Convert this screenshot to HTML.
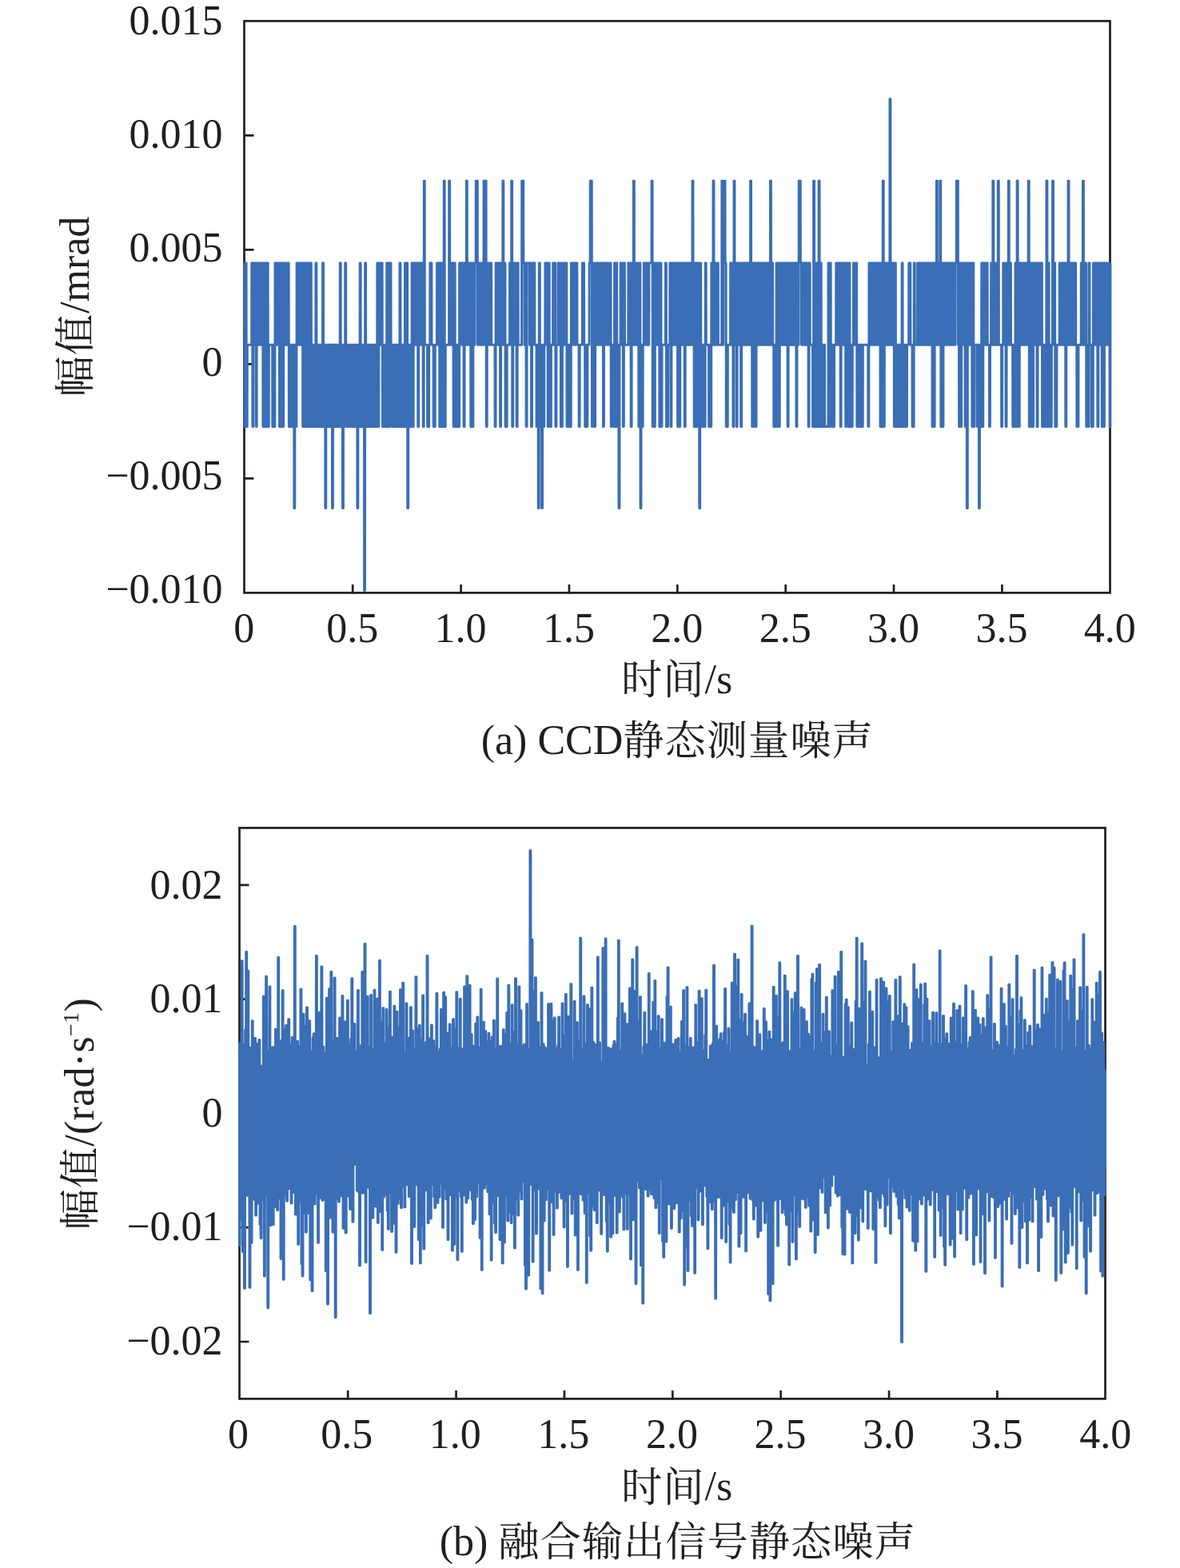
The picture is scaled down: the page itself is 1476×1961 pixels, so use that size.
<!DOCTYPE html>
<html lang="zh-CN">
<head>
<meta charset="utf-8">
<title>CCD静态测量噪声与融合输出信号静态噪声</title>
<style>
html,body{margin:0;padding:0;background:#fff;}
body{width:1476px;height:1961px;overflow:hidden;}
svg{display:block;}
.txt text{font-family:"Liberation Serif","Noto Serif CJK SC",serif;font-size:52px;fill:#221e1f;}
.txt .c{font-size:51.3px;letter-spacing:0.95px;}
.txt .s{font-size:28px;}
.ax rect,.ax path{fill:none;stroke:#221e1f;stroke-width:2.7;}
.dat path{fill:none;stroke:#3a6eb6;stroke-width:2.9;stroke-linejoin:round;stroke-linecap:butt;}
</style>
</head>
<body>
<svg width="1476" height="1961" viewBox="0 0 1476 1961">
<rect width="1476" height="1961" fill="#fff"/>
<g class="ax"><rect x="305.5" y="26.3" width="1083.0" height="715.1"/><path d="M305.5 169.32h12.0M305.5 312.34h12.0M305.5 455.36h12.0M305.5 598.38h12.0M441.18 742.4v-11.3M576.55 742.4v-11.3M711.92 742.4v-11.3M847.30 742.4v-11.3M982.67 742.4v-11.3M1118.05 742.4v-11.3M1253.42 742.4v-11.3"/></g>
<g class="dat"><path d="M305.5 329L305.99 329L306.1 533.5L307.07 533.5L307.18 329L308.15 329L308.26 533.5L309.24 533.5L309.34 431.3L314.65 431.3L314.76 329L315.73 329L315.84 533.5L316.82 533.5L316.93 329L317.9 329L318.01 431.3L318.98 431.3L319.09 329L320.07 329L320.17 533.5L321.15 533.5L321.26 329L322.23 329L322.34 431.3L323.32 431.3L323.42 329L324.4 329L324.51 431.3L325.48 431.3L325.59 329L326.56 329L326.67 431.3L327.65 431.3L327.76 329L328.73 329L328.84 533.5L329.81 533.5L329.92 329L330.9 329L331 533.5L331.98 533.5L332.09 329L333.06 329L333.17 533.5L334.15 533.5L334.25 329L335.23 329L335.34 533.5L336.31 533.5L336.42 431.3L340.64 431.3L340.75 533.5L341.73 533.5L341.83 431.3L342.81 431.3L342.92 533.5L343.89 533.5L344 329L344.98 329L345.08 431.3L346.06 431.3L346.17 329L347.14 329L347.25 431.3L348.22 431.3L348.33 329L349.31 329L349.42 533.5L350.39 533.5L350.5 329L351.47 329L351.58 533.5L352.56 533.5L352.66 329L353.64 329L353.75 533.5L354.72 533.5L354.83 329L355.81 329L355.91 431.3L356.89 431.3L357 329L357.97 329L358.08 431.3L360.14 431.3L360.25 329L361.22 329L361.33 533.5L362.3 533.5L362.41 431.3L363.39 431.3L363.49 533.5L364.47 533.5L364.58 431.3L365.55 431.3L365.66 533.5L366.64 533.5L366.74 431.3L367.72 431.3L367.83 635.6L368.8 635.6L368.91 431.3L369.88 431.3L369.99 533.5L370.97 533.5L371.08 329L372.05 329L372.16 431.3L373.13 431.3L373.24 329L374.22 329L374.32 431.3L375.3 431.3L375.41 329L376.38 329L376.49 431.3L377.47 431.3L377.57 329L378.55 329L378.66 533.5L379.63 533.5L379.74 329L380.71 329L380.82 533.5L381.8 533.5L381.91 329L382.88 329L382.99 533.5L383.96 533.5L384.07 329L385.05 329L385.15 533.5L386.13 533.5L386.24 329L387.21 329L387.32 533.5L388.3 533.5L388.4 329L389.38 329L389.49 533.5L390.46 533.5L390.57 431.3L391.54 431.3L391.65 533.5L392.63 533.5L392.74 431.3L393.71 431.3L393.82 533.5L394.79 533.5L394.9 329L395.88 329L395.98 533.5L396.96 533.5L397.07 431.3L398.04 431.3L398.15 533.5L399.13 533.5L399.23 431.3L400.21 431.3L400.32 533.5L401.29 533.5L401.4 431.3L402.37 431.3L402.48 533.5L403.46 533.5L403.57 329L404.54 329L404.65 533.5L405.62 533.5L405.73 431.3L406.71 431.3L406.81 635.6L407.79 635.6L407.9 431.3L408.87 431.3L408.98 533.5L409.96 533.5L410.06 431.3L411.04 431.3L411.15 533.5L412.12 533.5L412.23 431.3L413.2 431.3L413.31 533.5L414.29 533.5L414.4 431.3L415.37 431.3L415.48 635.6L416.45 635.6L416.56 431.3L417.54 431.3L417.64 533.5L418.62 533.5L418.73 431.3L419.7 431.3L419.81 533.5L420.79 533.5L420.89 431.3L421.87 431.3L421.98 533.5L422.95 533.5L423.06 431.3L424.03 431.3L424.14 533.5L425.12 533.5L425.23 329L426.2 329L426.31 533.5L427.28 533.5L427.39 431.3L428.37 431.3L428.47 635.6L429.45 635.6L429.56 431.3L430.53 431.3L430.64 533.5L431.62 533.5L431.72 329L432.7 329L432.81 431.3L433.78 431.3L433.89 533.5L434.86 533.5L434.97 431.3L435.95 431.3L436.06 533.5L437.03 533.5L437.14 431.3L438.11 431.3L438.22 533.5L439.2 533.5L439.3 431.3L440.28 431.3L440.39 533.5L441.36 533.5L441.47 431.3L442.45 431.3L442.55 533.5L443.53 533.5L443.64 431.3L444.61 431.3L444.72 533.5L445.69 533.5L445.8 431.3L446.78 431.3L446.89 635.6L447.86 635.6L447.97 431.3L448.94 431.3L449.05 533.5L450.03 533.5L450.13 329L451.11 329L451.22 533.5L452.19 533.5L452.3 431.3L453.28 431.3L453.38 533.5L454.36 533.5L454.47 431.3L455.44 431.3L455.55 738.6L456.52 738.6L456.63 329L457.61 329L457.72 533.5L458.69 533.5L458.8 431.3L459.77 431.3L459.88 533.5L460.86 533.5L460.96 431.3L461.94 431.3L462.05 533.5L463.02 533.5L463.13 431.3L464.11 431.3L464.21 533.5L465.19 533.5L465.3 431.3L466.27 431.3L466.38 533.5L467.35 533.5L467.46 431.3L468.44 431.3L468.55 533.5L469.52 533.5L469.63 431.3L470.6 431.3L470.71 533.5L471.69 533.5L471.79 329L472.77 329L472.88 533.5L473.85 533.5L473.96 329L474.94 329L475.04 431.3L477.1 431.3L477.21 329L478.18 329L478.29 533.5L479.27 533.5L479.38 431.3L480.35 431.3L480.46 533.5L481.43 533.5L481.54 431.3L482.52 431.3L482.62 533.5L483.6 533.5L483.71 329L484.68 329L484.79 533.5L485.77 533.5L485.87 329L486.85 329L486.96 533.5L487.93 533.5L488.04 329L489.01 329L489.12 431.3L490.1 431.3L490.21 533.5L491.18 533.5L491.29 431.3L492.26 431.3L492.37 533.5L493.35 533.5L493.45 431.3L494.43 431.3L494.54 533.5L495.51 533.5L495.62 431.3L496.6 431.3L496.7 533.5L497.68 533.5L497.79 431.3L498.76 431.3L498.87 533.5L499.84 533.5L499.95 329L500.93 329L501.04 533.5L502.01 533.5L502.12 431.3L503.09 431.3L503.2 533.5L504.18 533.5L504.28 431.3L505.26 431.3L505.37 533.5L506.34 533.5L506.45 329L507.43 329L507.53 533.5L508.51 533.5L508.62 329L509.59 329L509.7 635.6L510.67 635.6L510.78 431.3L511.76 431.3L511.87 533.5L512.84 533.5L512.95 431.3L513.92 431.3L514.03 533.5L515.01 533.5L515.11 329L516.09 329L516.2 533.5L517.17 533.5L517.28 329L518.26 329L518.36 431.3L519.34 431.3L519.45 329L520.42 329L520.53 431.3L521.5 431.3L521.61 329L522.59 329L522.7 533.5L523.67 533.5L523.78 329L524.75 329L524.86 431.3L525.84 431.3L525.94 329L526.92 329L527.03 431.3L528 431.3L528.11 329L529.09 329L529.19 533.5L530.17 533.5L530.28 226.1L531.25 226.1L531.36 431.3L534.5 431.3L534.61 533.5L536.67 533.5L536.77 431.3L537.75 431.3L537.86 329L539.92 329L540.02 431.3L542.08 431.3L542.19 533.5L544.25 533.5L544.36 431.3L546.41 431.3L546.52 329L547.5 329L547.6 431.3L548.58 431.3L548.69 329L549.66 329L549.77 533.5L550.75 533.5L550.85 329L551.83 329L551.94 533.5L552.91 533.5L553.02 329L553.99 329L554.1 533.5L555.08 533.5L555.19 226.1L556.16 226.1L556.27 533.5L557.24 533.5L557.35 431.3L561.58 431.3L561.68 226.1L562.66 226.1L562.77 431.3L563.74 431.3L563.85 329L564.82 329L564.93 431.3L565.91 431.3L566.02 329L566.99 329L567.1 533.5L568.07 533.5L568.18 329L569.16 329L569.26 533.5L570.24 533.5L570.35 431.3L571.32 431.3L571.43 533.5L572.41 533.5L572.51 431.3L573.49 431.3L573.6 533.5L574.57 533.5L574.68 329L575.65 329L575.76 431.3L576.74 431.3L576.85 329L577.82 329L577.93 431.3L578.9 431.3L579.01 329L579.99 329L580.09 533.5L581.07 533.5L581.18 329L582.15 329L582.26 431.3L583.24 431.3L583.34 226.1L584.32 226.1L584.43 431.3L585.4 431.3L585.51 329L586.48 329L586.59 431.3L587.57 431.3L587.68 329L588.65 329L588.76 533.5L589.73 533.5L589.84 329L590.82 329L590.92 533.5L591.9 533.5L592.01 329L592.98 329L593.09 431.3L594.07 431.3L594.17 329L595.15 329L595.26 226.1L597.31 226.1L597.42 431.3L598.4 431.3L598.51 329L599.48 329L599.59 431.3L600.56 431.3L600.67 329L601.65 329L601.75 431.3L602.73 431.3L602.84 329L603.81 329L603.92 431.3L604.9 431.3L605 226.1L605.98 226.1L606.09 431.3L607.06 431.3L607.17 226.1L608.14 226.1L608.25 533.5L609.23 533.5L609.34 329L610.31 329L610.42 431.3L611.39 431.3L611.5 329L612.48 329L612.58 431.3L613.56 431.3L613.67 329L614.64 329L614.75 431.3L618.97 431.3L619.08 533.5L620.06 533.5L620.17 329L621.14 329L621.25 431.3L622.22 431.3L622.33 329L623.31 329L623.41 431.3L624.39 431.3L624.5 329L625.47 329L625.58 533.5L626.56 533.5L626.66 329L627.64 329L627.75 431.3L628.72 431.3L628.83 226.1L629.8 226.1L629.91 431.3L630.89 431.3L631 329L631.97 329L632.08 533.5L634.14 533.5L634.24 431.3L637.39 431.3L637.49 329L638.47 329L638.58 431.3L639.55 431.3L639.66 226.1L640.63 226.1L640.74 533.5L641.72 533.5L641.83 329L642.8 329L642.91 431.3L643.88 431.3L643.99 329L644.97 329L645.07 431.3L646.05 431.3L646.16 533.5L647.13 533.5L647.24 329L648.22 329L648.32 431.3L652.55 431.3L652.66 226.1L654.71 226.1L654.82 329L655.8 329L655.9 431.3L656.88 431.3L656.99 329L657.96 329L658.07 533.5L659.05 533.5L659.15 329L662.29 329L662.4 431.3L663.38 431.3L663.49 329L664.46 329L664.57 533.5L665.54 533.5L665.65 329L666.63 329L666.73 431.3L667.71 431.3L667.82 329L668.79 329L668.9 431.3L670.96 431.3L671.07 533.5L672.04 533.5L672.15 431.3L673.12 431.3L673.23 635.6L674.21 635.6L674.32 329L675.29 329L675.4 533.5L676.37 533.5L676.48 431.3L677.46 431.3L677.56 635.6L678.54 635.6L678.65 431.3L679.62 431.3L679.73 533.5L680.71 533.5L680.81 431.3L681.79 431.3L681.9 329L682.87 329L682.98 431.3L683.95 431.3L684.06 329L685.04 329L685.15 533.5L686.12 533.5L686.23 329L687.2 329L687.31 431.3L688.29 431.3L688.39 533.5L689.37 533.5L689.48 431.3L691.54 431.3L691.64 329L692.62 329L692.73 431.3L693.7 431.3L693.81 329L694.78 329L694.89 533.5L695.87 533.5L695.98 431.3L698.03 431.3L698.14 329L699.12 329L699.22 431.3L700.2 431.3L700.31 329L701.28 329L701.39 533.5L703.45 533.5L703.56 329L704.53 329L704.64 431.3L705.61 431.3L705.72 329L706.7 329L706.81 431.3L707.78 431.3L707.89 329L708.86 329L708.97 533.5L709.95 533.5L710.05 431.3L711.03 431.3L711.14 533.5L712.11 533.5L712.22 431.3L713.2 431.3L713.3 533.5L714.28 533.5L714.39 329L715.36 329L715.47 431.3L716.44 431.3L716.55 329L717.53 329L717.64 431.3L718.61 431.3L718.72 329L719.69 329L719.8 431.3L720.78 431.3L720.88 329L721.86 329L721.97 431.3L724.03 431.3L724.13 533.5L725.11 533.5L725.22 431.3L728.36 431.3L728.47 329L730.52 329L730.63 431.3L731.61 431.3L731.71 533.5L732.69 533.5L732.8 431.3L733.77 431.3L733.88 533.5L734.86 533.5L734.96 431.3L737.02 431.3L737.13 329L738.1 329L738.21 226.1L740.27 226.1L740.38 533.5L741.35 533.5L741.46 329L742.44 329L742.54 431.3L743.52 431.3L743.63 533.5L744.6 533.5L744.71 329L745.69 329L745.79 431.3L746.77 431.3L746.88 329L747.85 329L747.96 431.3L748.93 431.3L749.04 329L750.02 329L750.13 431.3L751.1 431.3L751.21 329L752.18 329L752.29 431.3L753.27 431.3L753.37 329L754.35 329L754.46 533.5L755.43 533.5L755.54 329L756.52 329L756.62 431.3L757.6 431.3L757.71 329L758.68 329L758.79 431.3L759.76 431.3L759.87 329L760.85 329L760.96 431.3L763.01 431.3L763.12 329L764.1 329L764.2 533.5L765.18 533.5L765.29 431.3L767.35 431.3L767.45 533.5L768.43 533.5L768.54 329L769.51 329L769.62 533.5L770.59 533.5L770.7 329L771.68 329L771.79 533.5L772.76 533.5L772.87 431.3L773.84 431.3L773.95 635.6L774.93 635.6L775.03 431.3L776.01 431.3L776.12 329L777.09 329L777.2 431.3L778.18 431.3L778.28 329L779.26 329L779.37 533.5L780.34 533.5L780.45 329L781.42 329L781.53 431.3L785.76 431.3L785.86 329L786.84 329L786.95 431.3L787.92 431.3L788.03 329L789.01 329L789.11 533.5L790.09 533.5L790.2 329L791.17 329L791.28 431.3L792.25 431.3L792.36 226.1L793.34 226.1L793.45 431.3L794.42 431.3L794.53 329L795.5 329L795.61 431.3L796.59 431.3L796.69 329L797.67 329L797.78 431.3L798.75 431.3L798.86 533.5L799.84 533.5L799.94 329L800.92 329L801.03 635.6L802 635.6L802.11 431.3L803.08 431.3L803.19 533.5L804.17 533.5L804.28 431.3L805.25 431.3L805.36 329L806.33 329L806.44 431.3L807.42 431.3L807.52 329L808.5 329L808.61 431.3L809.58 431.3L809.69 329L810.67 329L810.77 431.3L811.75 431.3L811.86 329L815 329L815.11 226.1L816.08 226.1L816.19 533.5L817.16 533.5L817.27 329L818.25 329L818.35 533.5L819.33 533.5L819.44 329L820.41 329L820.52 431.3L821.5 431.3L821.6 329L822.58 329L822.69 431.3L823.66 431.3L823.77 329L824.74 329L824.85 533.5L825.83 533.5L825.94 329L826.91 329L827.02 533.5L827.99 533.5L828.1 431.3L832.33 431.3L832.43 329L833.41 329L833.52 533.5L835.57 533.5L835.68 431.3L837.74 431.3L837.85 329L838.82 329L838.93 533.5L839.91 533.5L840.01 329L840.99 329L841.1 431.3L842.07 431.3L842.18 329L843.16 329L843.26 431.3L844.24 431.3L844.35 329L845.32 329L845.43 431.3L846.4 431.3L846.51 329L847.49 329L847.6 533.5L848.57 533.5L848.68 329L849.65 329L849.76 533.5L850.74 533.5L850.84 329L851.82 329L851.93 431.3L852.9 431.3L853.01 329L853.99 329L854.09 431.3L855.07 431.3L855.18 329L856.15 329L856.26 533.5L857.23 533.5L857.34 329L858.32 329L858.43 431.3L859.4 431.3L859.51 329L860.48 329L860.59 431.3L861.57 431.3L861.67 329L862.65 329L862.76 431.3L863.73 431.3L863.84 329L864.82 329L864.92 431.3L865.9 431.3L866.01 226.1L866.98 226.1L867.09 431.3L868.06 431.3L868.17 533.5L869.15 533.5L869.26 329L870.23 329L870.34 533.5L871.31 533.5L871.42 329L872.4 329L872.5 533.5L873.48 533.5L873.59 329L874.56 329L874.67 635.6L875.65 635.6L875.75 329L876.73 329L876.84 533.5L877.81 533.5L877.92 431.3L878.89 431.3L879 533.5L879.98 533.5L880.09 431.3L881.06 431.3L881.17 533.5L882.14 533.5L882.25 329L883.23 329L883.33 431.3L886.48 431.3L886.58 533.5L887.56 533.5L887.67 431.3L888.64 431.3L888.75 533.5L889.72 533.5L889.83 329L890.81 329L890.92 431.3L891.89 431.3L892 226.1L892.97 226.1L893.08 431.3L894.06 431.3L894.16 329L895.14 329L895.25 431.3L897.31 431.3L897.41 329L898.39 329L898.5 431.3L902.72 431.3L902.83 226.1L903.8 226.1L903.91 431.3L904.89 431.3L904.99 329L905.97 329L906.08 226.1L907.05 226.1L907.16 329L908.14 329L908.24 533.5L910.3 533.5L910.41 431.3L913.55 431.3L913.66 329L914.63 329L914.74 431.3L915.72 431.3L915.82 329L916.8 329L916.91 533.5L917.88 533.5L917.99 226.1L918.97 226.1L919.07 431.3L920.05 431.3L920.16 329L921.13 329L921.24 533.5L922.21 533.5L922.32 329L923.3 329L923.41 431.3L924.38 431.3L924.49 329L925.46 329L925.57 431.3L926.55 431.3L926.65 533.5L927.63 533.5L927.74 329L928.71 329L928.82 431.3L929.8 431.3L929.9 329L930.88 329L930.99 431.3L931.96 431.3L932.07 329L933.04 329L933.15 431.3L934.13 431.3L934.24 329L935.21 329L935.32 431.3L936.29 431.3L936.4 329L937.38 329L937.48 431.3L938.46 431.3L938.57 226.1L939.54 226.1L939.65 431.3L940.63 431.3L940.73 533.5L941.71 533.5L941.82 329L942.79 329L942.9 533.5L943.87 533.5L943.98 329L944.96 329L945.07 533.5L946.04 533.5L946.15 329L947.12 329L947.23 431.3L948.21 431.3L948.31 329L949.29 329L949.4 431.3L950.37 431.3L950.48 329L951.46 329L951.56 431.3L952.54 431.3L952.65 329L953.62 329L953.73 431.3L954.7 431.3L954.81 329L955.79 329L955.9 431.3L956.87 431.3L956.98 329L957.95 329L958.06 431.3L959.04 431.3L959.14 329L960.12 329L960.23 431.3L961.2 431.3L961.31 329L962.29 329L962.39 431.3L963.37 431.3L963.48 226.1L964.45 226.1L964.56 431.3L965.53 431.3L965.64 329L966.62 329L966.73 431.3L967.7 431.3L967.81 533.5L968.78 533.5L968.89 431.3L969.87 431.3L969.97 533.5L970.95 533.5L971.06 329L972.03 329L972.14 533.5L973.12 533.5L973.22 329L974.2 329L974.31 533.5L975.28 533.5L975.39 329L976.36 329L976.47 431.3L977.45 431.3L977.56 329L978.53 329L978.64 431.3L979.61 431.3L979.72 329L980.7 329L980.8 431.3L981.78 431.3L981.89 329L982.86 329L982.97 431.3L983.95 431.3L984.05 329L985.03 329L985.14 533.5L986.11 533.5L986.22 329L987.19 329L987.3 431.3L988.28 431.3L988.39 329L989.36 329L989.47 431.3L990.44 431.3L990.55 329L991.53 329L991.63 431.3L992.61 431.3L992.72 329L993.69 329L993.8 431.3L994.78 431.3L994.88 329L995.86 329L995.97 533.5L996.94 533.5L997.05 329L998.02 329L998.13 431.3L999.11 431.3L999.22 226.1L1001.27 226.1L1001.38 329L1002.36 329L1002.46 431.3L1003.44 431.3L1003.55 329L1004.52 329L1004.63 431.3L1005.61 431.3L1005.71 329L1006.69 329L1006.8 431.3L1007.77 431.3L1007.88 329L1008.85 329L1008.96 431.3L1009.94 431.3L1010.05 329L1011.02 329L1011.13 533.5L1012.1 533.5L1012.21 329L1013.19 329L1013.29 431.3L1016.44 431.3L1016.54 533.5L1017.52 533.5L1017.63 226.1L1018.6 226.1L1018.71 533.5L1019.68 533.5L1019.79 329L1020.77 329L1020.88 533.5L1021.85 533.5L1021.96 329L1022.93 329L1023.04 533.5L1024.02 533.5L1024.12 226.1L1025.1 226.1L1025.21 533.5L1026.18 533.5L1026.29 329L1027.27 329L1027.37 533.5L1028.35 533.5L1028.46 431.3L1029.43 431.3L1029.54 533.5L1030.51 533.5L1030.62 431.3L1031.6 431.3L1031.71 533.5L1035.93 533.5L1036.04 329L1037.01 329L1037.12 533.5L1038.1 533.5L1038.2 329L1039.18 329L1039.29 431.3L1040.26 431.3L1040.37 533.5L1041.34 533.5L1041.45 431.3L1042.43 431.3L1042.54 533.5L1043.51 533.5L1043.62 431.3L1045.68 431.3L1045.78 329L1046.76 329L1046.87 431.3L1047.84 431.3L1047.95 329L1048.93 329L1049.03 431.3L1050.01 431.3L1050.12 329L1051.09 329L1051.2 533.5L1052.17 533.5L1052.28 329L1053.26 329L1053.37 431.3L1054.34 431.3L1054.45 329L1055.42 329L1055.53 431.3L1056.51 431.3L1056.61 329L1057.59 329L1057.7 533.5L1058.67 533.5L1058.78 329L1059.76 329L1059.86 431.3L1060.84 431.3L1060.95 533.5L1061.92 533.5L1062.03 329L1063 329L1063.11 533.5L1064.09 533.5L1064.2 431.3L1065.17 431.3L1065.28 533.5L1066.25 533.5L1066.36 431.3L1067.34 431.3L1067.44 329L1068.42 329L1068.53 431.3L1070.59 431.3L1070.69 329L1071.67 329L1071.78 533.5L1072.75 533.5L1072.86 431.3L1073.83 431.3L1073.94 533.5L1074.92 533.5L1075.03 431.3L1076 431.3L1076.11 533.5L1077.08 533.5L1077.19 431.3L1078.17 431.3L1078.27 533.5L1079.25 533.5L1079.36 431.3L1085.75 431.3L1085.86 533.5L1086.83 533.5L1086.94 329L1087.91 329L1088.02 431.3L1089 431.3L1089.1 329L1090.08 329L1090.19 431.3L1091.16 431.3L1091.27 329L1092.25 329L1092.35 431.3L1093.33 431.3L1093.44 329L1094.41 329L1094.52 431.3L1095.49 431.3L1095.6 329L1096.58 329L1096.69 431.3L1097.66 431.3L1097.77 329L1098.74 329L1098.85 431.3L1099.83 431.3L1099.93 329L1100.91 329L1101.02 533.5L1101.99 533.5L1102.1 329L1103.08 329L1103.18 533.5L1104.16 533.5L1104.27 226.1L1105.24 226.1L1105.35 533.5L1106.32 533.5L1106.43 329L1107.41 329L1107.52 431.3L1108.49 431.3L1108.6 329L1109.57 329L1109.68 431.3L1110.66 431.3L1110.76 329L1111.74 329L1111.85 431.3L1112.82 431.3L1112.93 123.7L1113.91 123.7L1114.01 431.3L1114.99 431.3L1115.1 329L1116.07 329L1116.18 431.3L1117.15 431.3L1117.26 329L1118.24 329L1118.35 533.5L1119.32 533.5L1119.43 329L1120.4 329L1120.51 533.5L1121.49 533.5L1121.59 431.3L1122.57 431.3L1122.68 533.5L1123.65 533.5L1123.76 431.3L1124.74 431.3L1124.84 533.5L1125.82 533.5L1125.93 431.3L1126.9 431.3L1127.01 533.5L1127.98 533.5L1128.09 329L1129.07 329L1129.18 533.5L1130.15 533.5L1130.26 431.3L1131.23 431.3L1131.34 533.5L1132.32 533.5L1132.42 431.3L1133.4 431.3L1133.51 533.5L1134.48 533.5L1134.59 431.3L1136.65 431.3L1136.76 329L1138.81 329L1138.92 431.3L1140.98 431.3L1141.09 533.5L1143.15 533.5L1143.25 329L1144.23 329L1144.34 431.3L1147.48 431.3L1147.59 329L1148.56 329L1148.67 431.3L1149.64 431.3L1149.75 329L1150.73 329L1150.84 431.3L1151.81 431.3L1151.92 329L1152.89 329L1153 431.3L1153.98 431.3L1154.08 329L1155.06 329L1155.17 431.3L1156.14 431.3L1156.25 329L1157.23 329L1157.33 431.3L1158.31 431.3L1158.42 329L1159.39 329L1159.5 431.3L1160.47 431.3L1160.58 329L1161.56 329L1161.67 431.3L1162.64 431.3L1162.75 329L1163.72 329L1163.83 431.3L1164.81 431.3L1164.91 329L1165.89 329L1166 533.5L1166.97 533.5L1167.08 329L1168.06 329L1168.16 533.5L1169.14 533.5L1169.25 329L1170.22 329L1170.33 431.3L1171.3 431.3L1171.41 226.1L1172.39 226.1L1172.5 431.3L1173.47 431.3L1173.58 329L1174.55 329L1174.66 431.3L1175.64 431.3L1175.74 226.1L1176.72 226.1L1176.83 533.5L1177.8 533.5L1177.91 329L1178.89 329L1178.99 533.5L1179.97 533.5L1180.08 329L1181.05 329L1181.16 431.3L1182.13 431.3L1182.24 329L1183.22 329L1183.33 431.3L1184.3 431.3L1184.41 329L1185.38 329L1185.49 431.3L1186.47 431.3L1186.57 329L1187.55 329L1187.66 431.3L1188.63 431.3L1188.74 329L1189.72 329L1189.82 431.3L1190.8 431.3L1190.91 329L1191.88 329L1191.99 431.3L1192.96 431.3L1193.07 329L1194.05 329L1194.16 431.3L1195.13 431.3L1195.24 329L1196.21 329L1196.32 226.1L1198.38 226.1L1198.49 431.3L1199.46 431.3L1199.57 533.5L1200.55 533.5L1200.65 329L1201.63 329L1201.74 533.5L1202.71 533.5L1202.82 329L1203.79 329L1203.9 431.3L1204.88 431.3L1204.99 329L1205.96 329L1206.07 431.3L1207.04 431.3L1207.15 533.5L1208.13 533.5L1208.23 329L1209.21 329L1209.32 635.6L1210.29 635.6L1210.4 329L1211.38 329L1211.48 431.3L1212.46 431.3L1212.57 329L1213.54 329L1213.65 431.3L1214.62 431.3L1214.73 329L1215.71 329L1215.82 533.5L1216.79 533.5L1216.9 329L1217.87 329L1217.98 533.5L1218.96 533.5L1219.06 431.3L1222.21 431.3L1222.31 533.5L1223.29 533.5L1223.4 431.3L1224.37 431.3L1224.48 635.6L1225.45 635.6L1225.56 431.3L1226.54 431.3L1226.65 533.5L1227.62 533.5L1227.73 329L1228.7 329L1228.81 533.5L1229.79 533.5L1229.89 329L1230.87 329L1230.98 431.3L1231.95 431.3L1232.06 329L1233.04 329L1233.14 431.3L1234.12 431.3L1234.23 329L1235.2 329L1235.31 431.3L1237.37 431.3L1237.48 533.5L1238.45 533.5L1238.56 431.3L1239.53 431.3L1239.64 329L1240.62 329L1240.72 431.3L1241.7 431.3L1241.81 226.1L1242.78 226.1L1242.89 431.3L1243.87 431.3L1243.97 329L1244.95 329L1245.06 431.3L1246.03 431.3L1246.14 329L1247.11 329L1247.22 431.3L1248.2 431.3L1248.31 226.1L1249.28 226.1L1249.39 431.3L1252.53 431.3L1252.64 533.5L1253.61 533.5L1253.72 431.3L1254.7 431.3L1254.8 329L1255.78 329L1255.89 431.3L1256.86 431.3L1256.97 329L1257.94 329L1258.05 533.5L1259.03 533.5L1259.14 329L1260.11 329L1260.22 431.3L1261.19 431.3L1261.3 226.1L1262.28 226.1L1262.38 431.3L1263.36 431.3L1263.47 329L1264.44 329L1264.55 431.3L1266.61 431.3L1266.72 533.5L1267.69 533.5L1267.8 431.3L1268.77 431.3L1268.88 533.5L1269.86 533.5L1269.97 329L1270.94 329L1271.05 533.5L1272.02 533.5L1272.13 226.1L1273.11 226.1L1273.21 431.3L1274.19 431.3L1274.3 533.5L1275.27 533.5L1275.38 329L1276.36 329L1276.46 431.3L1277.44 431.3L1277.55 329L1278.52 329L1278.63 431.3L1279.6 431.3L1279.71 329L1280.69 329L1280.8 431.3L1281.77 431.3L1281.88 329L1282.85 329L1282.96 431.3L1283.94 431.3L1284.04 329L1285.02 329L1285.13 431.3L1286.1 431.3L1286.21 226.1L1287.19 226.1L1287.29 533.5L1288.27 533.5L1288.38 329L1289.35 329L1289.46 533.5L1290.43 533.5L1290.54 329L1291.52 329L1291.63 533.5L1292.6 533.5L1292.71 329L1293.68 329L1293.79 431.3L1294.77 431.3L1294.87 329L1295.85 329L1295.96 431.3L1296.93 431.3L1297.04 533.5L1298.02 533.5L1298.12 329L1299.1 329L1299.21 431.3L1300.18 431.3L1300.29 329L1301.26 329L1301.37 431.3L1302.35 431.3L1302.46 329L1303.43 329L1303.54 533.5L1304.51 533.5L1304.62 431.3L1305.6 431.3L1305.7 533.5L1306.68 533.5L1306.79 431.3L1307.76 431.3L1307.87 533.5L1308.85 533.5L1308.95 226.1L1309.93 226.1L1310.04 533.5L1311.01 533.5L1311.12 329L1312.09 329L1312.2 533.5L1313.18 533.5L1313.29 431.3L1314.26 431.3L1314.37 533.5L1315.34 533.5L1315.45 431.3L1316.43 431.3L1316.53 226.1L1317.51 226.1L1317.62 431.3L1318.59 431.3L1318.7 329L1319.68 329L1319.78 533.5L1321.84 533.5L1321.95 431.3L1325.09 431.3L1325.2 329L1326.17 329L1326.28 431.3L1327.26 431.3L1327.36 329L1328.34 329L1328.45 431.3L1329.42 431.3L1329.53 329L1330.51 329L1330.61 431.3L1331.59 431.3L1331.7 329L1332.67 329L1332.78 533.5L1333.75 533.5L1333.86 329L1334.84 329L1334.95 431.3L1335.92 431.3L1336.03 226.1L1337 226.1L1337.11 431.3L1338.09 431.3L1338.19 329L1339.17 329L1339.28 431.3L1340.25 431.3L1340.36 329L1341.34 329L1341.44 431.3L1342.42 431.3L1342.53 329L1343.5 329L1343.61 431.3L1344.58 431.3L1344.69 329L1345.67 329L1345.78 431.3L1346.75 431.3L1346.86 533.5L1348.92 533.5L1349.02 431.3L1352.17 431.3L1352.27 329L1353.25 329L1353.36 431.3L1354.33 431.3L1354.44 226.1L1355.41 226.1L1355.52 431.3L1357.58 431.3L1357.69 329L1358.66 329L1358.77 533.5L1359.75 533.5L1359.85 431.3L1360.83 431.3L1360.94 533.5L1361.91 533.5L1362.02 329L1363 329L1363.1 431.3L1365.16 431.3L1365.27 533.5L1367.33 533.5L1367.44 329L1368.41 329L1368.52 431.3L1369.49 431.3L1369.6 329L1370.58 329L1370.68 431.3L1371.66 431.3L1371.77 329L1372.74 329L1372.85 533.5L1373.83 533.5L1373.93 329L1374.91 329L1375.02 431.3L1375.99 431.3L1376.1 329L1377.07 329L1377.18 431.3L1378.16 431.3L1378.27 533.5L1379.24 533.5L1379.35 329L1380.32 329L1380.43 533.5L1381.41 533.5L1381.51 329L1382.49 329L1382.6 431.3L1383.57 431.3L1383.68 329L1384.66 329L1384.76 431.3L1386.82 431.3L1386.93 329L1387.9 329L1388.01 533.5L1388.9 533.5L1389 329"/></g>
<g class="ax"><rect x="299.5" y="1035.4" width="1083.0" height="714.0"/><path d="M299.5 1106.80h12.0M299.5 1249.60h12.0M299.5 1392.40h12.0M299.5 1535.20h12.0M299.5 1678.00h12.0M435.18 1750.4v-11.3M570.55 1750.4v-11.3M705.92 1750.4v-11.3M841.30 1750.4v-11.3M976.67 1750.4v-11.3M1112.05 1750.4v-11.3M1247.42 1750.4v-11.3"/></g>
<g class="dat"><path d="M299.5 1303.5L299.5 1557.5L300 1557.5L300.1 1314.5L301.1 1314.5L301.2 1525.5L302.2 1525.5L302.3 1201.7L303.2 1201.7L303.3 1565.4L304.3 1565.4L304.4 1306.5L305.4 1306.5L305.5 1611.2L306.5 1611.2L306.6 1287.9L307.6 1287.9L307.7 1190.4L308.7 1190.4L308.8 1495.3L309.7 1495.3L309.8 1214.1L310.8 1214.1L310.9 1465.9L311.9 1465.9L312 1610.2L313 1610.2L313.1 1310.1L314.1 1310.1L314.2 1554.2L315.1 1554.2L315.3 1276.7L316.2 1276.7L316.3 1500.2L317.3 1500.2L317.4 1303L318.4 1303L318.5 1298.5L319.5 1298.5L319.6 1520.1L320.6 1520.1L320.7 1305.7L321.6 1305.7L321.8 1505L322.7 1505L322.8 1304.6L323.8 1304.6L323.9 1300.4L324.9 1300.4L325 1531.5L326 1531.5L326.1 1548.6L327.1 1548.6L327.2 1333.2L328.1 1333.2L328.3 1500.9L329.2 1500.9L329.3 1246.3L330.3 1246.3L330.4 1596L331.4 1596L331.5 1254.2L332.5 1254.2L332.6 1221.3L333.6 1221.3L333.7 1492.9L334.6 1492.9L334.8 1635.8L335.7 1635.8L335.8 1314.3L336.8 1314.3L336.9 1234L337.9 1234L338 1532.5L339 1532.5L339.1 1313.7L340.1 1313.7L340.2 1309.9L341.1 1309.9L341.2 1531.5L342.2 1531.5L342.3 1309.7L343.3 1309.7L343.4 1509.3L344.4 1509.3L344.5 1287.1L345.5 1287.1L345.6 1497.5L346.6 1497.5L346.7 1513.5L347.6 1513.5L347.7 1197.4L348.7 1197.4L348.8 1498.5L349.8 1498.5L349.9 1301.8L350.9 1301.8L351 1574.2L352 1574.2L352.1 1307.3L353.1 1307.3L353.2 1238.7L354.1 1238.7L354.2 1600.2L355.2 1600.2L355.3 1287.7L356.3 1287.7L356.4 1494.9L357.4 1494.9L357.5 1282.4L358.5 1282.4L358.6 1502.1L359.6 1502.1L359.7 1290.6L360.6 1290.6L360.7 1274.8L361.7 1274.8L361.8 1486.5L362.8 1486.5L362.9 1306.1L363.9 1306.1L364 1504.9L365 1504.9L365.1 1297.5L366.1 1297.5L366.2 1491.4L367.1 1491.4L367.2 1317.4L368.2 1317.4L368.3 1158.5L369.3 1158.5L369.4 1518.9L370.4 1518.9L370.5 1311.3L371.5 1311.3L371.6 1302.3L372.5 1302.3L372.7 1556.2L373.6 1556.2L373.7 1308.2L374.7 1308.2L374.8 1503.7L375.8 1503.7L375.9 1237.2L376.9 1237.2L377 1580.8L378 1580.8L378.1 1596L379 1596L379.2 1268.1L380.1 1268.1L380.2 1517.4L381.2 1517.4L381.3 1283.3L382.3 1283.3L382.4 1541L383.4 1541L383.5 1260L384.5 1260L384.6 1517.2L385.5 1517.2L385.7 1315.7L386.6 1315.7L386.7 1276.7L387.7 1276.7L387.8 1600.7L388.8 1600.7L388.9 1315.2L389.9 1315.2L390 1614.6L391 1614.6L391.1 1298L392 1298L392.2 1292.8L393.1 1292.8L393.2 1505.9L394.2 1505.9L394.3 1312.5L395.3 1312.5L395.4 1195.5L396.4 1195.5L396.5 1493.5L397.5 1493.5L397.6 1554.3L398.5 1554.3L398.6 1266.2L399.6 1266.2L399.7 1498.4L400.7 1498.4L400.8 1271.8L401.8 1271.8L401.9 1209L402.9 1209L403 1501.2L404 1501.2L404.1 1309.2L405 1309.2L405.1 1500L406.1 1500L406.2 1317.5L407.2 1317.5L407.3 1589.5L408.3 1589.5L408.4 1248.2L409.4 1248.2L409.5 1631.1L410.5 1631.1L410.6 1264.9L411.5 1264.9L411.6 1236.8L412.6 1236.8L412.7 1523L413.7 1523L413.8 1215.4L414.8 1215.4L414.9 1477.8L415.9 1477.8L416 1541L417 1541L417.1 1303.1L418 1303.1L418.1 1223L419.1 1223L419.2 1647.6L420.2 1647.6L420.3 1303.2L421.3 1303.2L421.4 1298.5L422.4 1298.5L422.5 1499.2L423.4 1499.2L423.6 1503L424.5 1503L424.6 1272.9L425.6 1272.9L425.7 1495.9L426.7 1495.9L426.8 1289.3L427.8 1289.3L427.9 1245.4L428.9 1245.4L429 1536.2L429.9 1536.2L430.1 1323.1L431 1323.1L431.1 1277.6L432.1 1277.6L432.2 1541.9L433.2 1541.9L433.3 1319.5L434.3 1319.5L434.4 1251.1L435.4 1251.1L435.5 1496.1L436.4 1496.1L436.6 1306L437.5 1306L437.6 1512.2L438.6 1512.2L438.7 1299.1L439.7 1299.1L439.8 1223.6L440.8 1223.6L440.9 1528.1L441.9 1528.1L442 1302.8L442.9 1302.8L443.1 1280.5L444 1280.5L444.1 1456.3L445.1 1456.3L445.2 1315.4L446.2 1315.4L446.3 1489L447.3 1489L447.4 1238.4L448.4 1238.4L448.5 1491.1L449.4 1491.1L449.5 1582.7L450.5 1582.7L450.6 1307.8L451.6 1307.8L451.7 1492.2L452.7 1492.2L452.8 1215.4L453.8 1215.4L453.9 1491.7L454.9 1491.7L455 1275L455.9 1275L456 1180.5L457 1180.5L457.1 1578.5L458.1 1578.5L458.2 1309.1L459.2 1309.1L459.3 1246.3L460.3 1246.3L460.4 1485.2L461.4 1485.2L461.5 1309.7L462.4 1309.7L462.5 1642.5L463.5 1642.5L463.6 1244.4L464.6 1244.4L464.7 1499.7L465.7 1499.7L465.8 1523L466.8 1523L466.9 1312.3L467.9 1312.3L468 1238.2L468.9 1238.2L469 1508.8L470 1508.8L470.1 1287.2L471.1 1287.2L471.2 1249.2L472.2 1249.2L472.3 1529.2L473.3 1529.2L473.4 1310L474.4 1310L474.5 1201.2L475.4 1201.2L475.5 1515.6L476.5 1515.6L476.6 1278.1L477.6 1278.1L477.7 1563.2L478.7 1563.2L478.8 1260.6L479.8 1260.6L479.9 1496.7L480.8 1496.7L481 1305.1L481.9 1305.1L482 1493.9L483 1493.9L483.1 1262.5L484.1 1262.5L484.2 1514.1L485.2 1514.1L485.3 1537.2L486.3 1537.2L486.4 1285.3L487.3 1285.3L487.5 1240.1L488.4 1240.1L488.5 1491.6L489.5 1491.6L489.6 1540.4L490.6 1540.4L490.7 1297.2L491.7 1297.2L491.8 1530.3L492.8 1530.3L492.9 1258.1L493.8 1258.1L494 1495.1L494.9 1495.1L495 1566.2L496 1566.2L496.1 1265.3L497.1 1265.3L497.2 1505.4L498.2 1505.4L498.3 1284.6L499.3 1284.6L499.4 1498.5L500.3 1498.5L500.5 1237.8L501.4 1237.8L501.5 1510.6L502.5 1510.6L502.6 1264.1L503.6 1264.1L503.7 1229.3L504.7 1229.3L504.8 1483.7L505.8 1483.7L505.9 1509.7L506.8 1509.7L506.9 1316.7L507.9 1316.7L508 1254.9L509 1254.9L509.1 1481.8L510.1 1481.8L510.2 1298.1L511.2 1298.1L511.3 1496.6L512.3 1496.6L512.4 1304.1L513.3 1304.1L513.4 1259.6L514.4 1259.6L514.5 1580.4L515.5 1580.4L515.6 1289L516.6 1289L516.7 1517L517.7 1517L517.8 1534.3L518.8 1534.3L518.9 1312.7L519.8 1312.7L519.9 1221.7L520.9 1221.7L521 1482L522 1482L522.1 1286.6L523.1 1286.6L523.2 1550.6L524.2 1550.6L524.3 1282.4L525.3 1282.4L525.4 1579.9L526.3 1579.9L526.4 1300.5L527.4 1300.5L527.5 1532.5L528.5 1532.5L528.6 1245L529.6 1245L529.7 1561.9L530.7 1561.9L530.8 1303.9L531.7 1303.9L531.9 1488.5L532.8 1488.5L532.9 1321.3L533.9 1321.3L534 1195.5L535 1195.5L535.1 1529.6L536.1 1529.6L536.2 1298.9L537.2 1298.9L537.3 1503.3L538.2 1503.3L538.4 1523.9L539.3 1523.9L539.4 1282L540.4 1282L540.5 1481.3L541.5 1481.3L541.6 1301.5L542.6 1301.5L542.7 1496.9L543.7 1496.9L543.8 1510.6L544.7 1510.6L544.9 1308.9L545.8 1308.9L545.9 1242.5L546.9 1242.5L547 1504.4L548 1504.4L548.1 1315.2L549.1 1315.2L549.2 1497.1L550.2 1497.1L550.3 1312L551.2 1312L551.4 1262.5L552.3 1262.5L552.4 1480.3L553.4 1480.3L553.5 1535.3L554.5 1535.3L554.6 1241.2L555.6 1241.2L555.7 1486.2L556.7 1486.2L556.8 1247L557.7 1247L557.8 1499.8L558.8 1499.8L558.9 1292.1L559.9 1292.1L560 1550.5L561 1550.5L561.1 1295.1L562.1 1295.1L562.2 1280.9L563.2 1280.9L563.3 1494.5L564.2 1494.5L564.3 1310.9L565.3 1310.9L565.4 1564.1L566.4 1564.1L566.5 1274.8L567.5 1274.8L567.6 1556.3L568.6 1556.3L568.7 1287.5L569.7 1287.5L569.8 1496.8L570.7 1496.8L570.8 1240.6L571.8 1240.6L571.9 1575.5L572.9 1575.5L573 1310.5L574 1310.5L574.1 1489.4L575.1 1489.4L575.2 1249.2L576.2 1249.2L576.3 1496.7L577.2 1496.7L577.3 1565.3L578.3 1565.3L578.4 1311.7L579.4 1311.7L579.5 1494.9L580.5 1494.9L580.6 1234L581.6 1234L581.7 1490.2L582.7 1490.2L582.8 1504L583.7 1504L583.8 1220.7L584.8 1220.7L584.9 1498.7L585.9 1498.7L586 1311.7L587 1311.7L587.1 1232.1L588.1 1232.1L588.2 1488.4L589.1 1488.4L589.3 1293.8L590.2 1293.8L590.3 1500.2L591.3 1500.2L591.4 1530.6L592.4 1530.6L592.5 1308.3L593.5 1308.3L593.6 1525.4L594.6 1525.4L594.7 1280.2L595.6 1280.2L595.8 1496.7L596.7 1496.7L596.8 1271.9L597.8 1271.9L597.9 1479.6L598.9 1479.6L599 1310.2L600 1310.2L600.1 1548.4L601.1 1548.4L601.2 1237.2L602.1 1237.2L602.3 1588.4L603.2 1588.4L603.3 1304.7L604.3 1304.7L604.4 1278.2L605.4 1278.2L605.5 1486L606.5 1486L606.6 1289.6L607.6 1289.6L607.7 1480.3L608.6 1480.3L608.8 1302.6L609.7 1302.6L609.8 1490.9L610.8 1490.9L610.9 1292.2L611.9 1292.2L612 1518.6L613 1518.6L613.1 1302.5L614.1 1302.5L614.2 1576.1L615.1 1576.1L615.2 1296.8L616.2 1296.8L616.3 1504.9L617.3 1504.9L617.4 1276.3L618.4 1276.3L618.5 1530.2L619.5 1530.2L619.6 1541.4L620.6 1541.4L620.7 1312.9L621.6 1312.9L621.7 1223.9L622.7 1223.9L622.8 1495.6L623.8 1495.6L623.9 1308.6L624.9 1308.6L625 1550.5L626 1550.5L626.1 1308.5L627.1 1308.5L627.2 1546.4L628.1 1546.4L628.2 1579.9L629.2 1579.9L629.3 1287.7L630.3 1287.7L630.4 1554.1L631.4 1554.1L631.5 1293.1L632.5 1293.1L632.6 1494.8L633.6 1494.8L633.7 1266.5L634.6 1266.5L634.7 1526.8L635.7 1526.8L635.8 1232.1L636.8 1232.1L636.9 1515.7L637.9 1515.7L638 1305.1L639 1305.1L639.1 1529.6L640 1529.6L640.2 1256.8L641.1 1256.8L641.2 1518.3L642.2 1518.3L642.3 1290.7L643.3 1290.7L643.4 1560.9L644.4 1560.9L644.5 1223.6L645.5 1223.6L645.6 1500.3L646.5 1500.3L646.7 1306.7L647.6 1306.7L647.7 1520.1L648.7 1520.1L648.8 1234L649.8 1234L649.9 1490.5L650.9 1490.5L651 1263.8L652 1263.8L652.1 1499.9L653 1499.9L653.2 1308.4L654.1 1308.4L654.2 1477.6L655.2 1477.6L655.3 1306.2L656.3 1306.2L656.4 1582.4L657.4 1582.4L657.5 1612.1L658.5 1612.1L658.6 1255.8L659.5 1255.8L659.7 1536.2L660.6 1536.2L660.7 1595.1L661.7 1595.1L661.8 1312.4L662.8 1312.4L662.9 1063.8L663.9 1063.8L664 1481.4L665 1481.4L665.1 1175.3L666 1175.3L666.1 1578L667.1 1578L667.2 1239.4L668.2 1239.4L668.3 1489.1L669.3 1489.1L669.4 1222.6L670.4 1222.6L670.5 1542.9L671.5 1542.9L671.6 1316.2L672.5 1316.2L672.6 1278.6L673.6 1278.6L673.7 1487L674.7 1487L674.8 1309.8L675.8 1309.8L675.9 1611.7L676.9 1611.7L677 1241.6L678 1241.6L678.1 1617.8L679 1617.8L679.1 1305.8L680.1 1305.8L680.2 1526.8L681.2 1526.8L681.3 1310L682.3 1310L682.4 1500.7L683.4 1500.7L683.5 1313L684.5 1313L684.6 1486.9L685.5 1486.9L685.6 1255.8L686.6 1255.8L686.7 1589L687.7 1589L687.8 1313L688.8 1313L688.9 1255.4L689.9 1255.4L690 1503.4L691 1503.4L691.1 1277.3L692 1277.3L692.1 1544.4L693.1 1544.4L693.2 1272.9L694.2 1272.9L694.3 1490.1L695.3 1490.1L695.4 1311.6L696.4 1311.6L696.5 1511L697.4 1511L697.6 1307.6L698.5 1307.6L698.6 1271.9L699.6 1271.9L699.7 1491.3L700.7 1491.3L700.8 1312.3L701.8 1312.3L701.9 1498.8L702.9 1498.8L703 1254.9L703.9 1254.9L704.1 1494.9L705 1494.9L705.1 1534.7L706.1 1534.7L706.2 1295.3L707.2 1295.3L707.3 1243.5L708.3 1243.5L708.4 1502.3L709.4 1502.3L709.5 1584.2L710.4 1584.2L710.6 1271.1L711.5 1271.1L711.6 1493.4L712.6 1493.4L712.7 1307.5L713.7 1307.5L713.8 1230.6L714.8 1230.6L714.9 1517.8L715.9 1517.8L716 1327L716.9 1327L717.1 1499.8L718 1499.8L718.1 1252.4L719.1 1252.4L719.2 1544.9L720.2 1544.9L720.3 1316L721.3 1316L721.4 1278.6L722.4 1278.6L722.5 1588.4L723.4 1588.4L723.5 1301.9L724.5 1301.9L724.6 1493.1L725.6 1493.1L725.7 1173.3L726.7 1173.3L726.8 1493.6L727.8 1493.6L727.9 1312.3L728.9 1312.3L729 1501L729.9 1501L730 1245.9L731 1245.9L731.1 1517.3L732.1 1517.3L732.2 1305.5L733.2 1305.5L733.3 1604.2L734.3 1604.2L734.4 1256.8L735.4 1256.8L735.5 1491.6L736.4 1491.6L736.5 1261.4L737.5 1261.4L737.6 1545.7L738.6 1545.7L738.7 1564.1L739.7 1564.1L739.8 1235.3L740.8 1235.3L740.9 1508.3L741.9 1508.3L742 1303.5L742.9 1303.5L743 1513.5L744 1513.5L744.1 1306.4L745.1 1306.4L745.2 1492.1L746.2 1492.1L746.3 1529.6L747.3 1529.6L747.4 1197L748.3 1197L748.5 1488.9L749.4 1488.9L749.5 1303.9L750.5 1303.9L750.6 1485.7L751.6 1485.7L751.7 1543.3L752.7 1543.3L752.8 1328L753.8 1328L753.9 1185.6L754.8 1185.6L755 1494.4L755.9 1494.4L756 1214.7L757 1214.7L757.1 1173.9L758.1 1173.9L758.2 1527.3L759.2 1527.3L759.3 1565.1L760.3 1565.1L760.4 1310.4L761.3 1310.4L761.5 1505.1L762.4 1505.1L762.5 1311.8L763.5 1311.8L763.6 1547.1L764.6 1547.1L764.7 1311.7L765.7 1311.7L765.8 1542.9L766.8 1542.9L766.9 1307.6L767.8 1307.6L768 1302.3L768.9 1302.3L769 1495.3L770 1495.3L770.1 1306.2L771.1 1306.2L771.2 1541.9L772.2 1541.9L772.3 1273.1L773.3 1273.1L773.4 1176.1L774.3 1176.1L774.4 1515.8L775.4 1515.8L775.5 1314.6L776.5 1314.6L776.6 1494.6L777.6 1494.6L777.7 1254.9L778.7 1254.9L778.8 1497.9L779.8 1497.9L779.9 1537.8L780.8 1537.8L780.9 1267.6L781.9 1267.6L782 1492.4L783 1492.4L783.1 1280.7L784.1 1280.7L784.2 1537.2L785.2 1537.2L785.3 1280.6L786.3 1280.6L786.4 1492.4L787.3 1492.4L787.4 1235.9L788.4 1235.9L788.5 1574.8L789.5 1574.8L789.6 1310.2L790.6 1310.2L790.7 1199.9L791.7 1199.9L791.8 1525.5L792.8 1525.5L792.9 1239.5L793.8 1239.5L793.9 1512.8L794.9 1512.8L795 1605.5L796 1605.5L796.1 1184.7L797.1 1184.7L797.2 1476.7L798.2 1476.7L798.3 1277.8L799.3 1277.8L799.4 1485.9L800.3 1485.9L800.4 1246.7L801.4 1246.7L801.5 1582.6L802.5 1582.6L802.6 1319.9L803.6 1319.9L803.7 1630.1L804.7 1630.1L804.8 1308.7L805.7 1308.7L805.9 1266.2L806.8 1266.2L806.9 1486.9L807.9 1486.9L808 1487.5L809 1487.5L809.1 1306.1L810.1 1306.1L810.2 1496L811.2 1496L811.3 1217.5L812.2 1217.5L812.4 1488.1L813.3 1488.1L813.4 1289.6L814.4 1289.6L814.5 1493.5L815.5 1493.5L815.6 1492.6L816.6 1492.6L816.7 1253.5L817.7 1253.5L817.8 1498.4L818.7 1498.4L818.9 1226.4L819.8 1226.4L819.9 1510.6L820.9 1510.6L821 1289.8L822 1289.8L822.1 1504.6L823.1 1504.6L823.2 1270.6L824.2 1270.6L824.3 1542.5L825.2 1542.5L825.4 1312L826.3 1312L826.4 1474.6L827.4 1474.6L827.5 1274.8L828.5 1274.8L828.6 1552.2L829.6 1552.2L829.7 1572.3L830.7 1572.3L830.8 1304.4L831.7 1304.4L831.8 1490.8L832.8 1490.8L832.9 1552.9L833.9 1552.9L834 1246.5L835 1246.5L835.1 1209.9L836.1 1209.9L836.2 1505.9L837.2 1505.9L837.3 1307.4L838.2 1307.4L838.3 1259.2L839.3 1259.2L839.4 1536.2L840.4 1536.2L840.5 1306L841.5 1306L841.6 1494L842.6 1494L842.7 1511.6L843.7 1511.6L843.8 1305.7L844.7 1305.7L844.8 1300.4L845.8 1300.4L845.9 1504.6L846.9 1504.6L847 1305.4L848 1305.4L848.1 1298.5L849.1 1298.5L849.2 1541L850.2 1541L850.3 1316.3L851.2 1316.3L851.3 1523.9L852.3 1523.9L852.4 1277.5L853.4 1277.5L853.5 1514.7L854.5 1514.7L854.6 1238.7L855.6 1238.7L855.7 1607L856.6 1607L856.8 1307.2L857.7 1307.2L857.8 1560L858.8 1560L858.9 1234.6L859.9 1234.6L860 1589.4L861 1589.4L861.1 1310L862.1 1310L862.2 1501.2L863.1 1501.2L863.3 1298.5L864.2 1298.5L864.3 1520.7L865.3 1520.7L865.4 1533.4L866.4 1533.4L866.5 1309.9L867.5 1309.9L867.6 1494.2L868.6 1494.2L868.7 1592.2L869.6 1592.2L869.8 1256.8L870.7 1256.8L870.8 1485.4L871.8 1485.4L871.9 1303.9L872.9 1303.9L873 1525.8L874 1525.8L874.1 1239.3L875.1 1239.3L875.2 1490L876.1 1490L876.3 1308.2L877.2 1308.2L877.3 1248.6L878.3 1248.6L878.4 1531.5L879.4 1531.5L879.5 1313.4L880.5 1313.4L880.6 1482.8L881.6 1482.8L881.7 1294.5L882.6 1294.5L882.7 1238.2L883.7 1238.2L883.8 1496.6L884.8 1496.6L884.9 1561.5L885.9 1561.5L886 1325.1L887 1325.1L887.1 1503.6L888.1 1503.6L888.2 1307.9L889.1 1307.9L889.2 1501.3L890.2 1501.3L890.3 1512.5L891.3 1512.5L891.4 1304.4L892.4 1304.4L892.5 1207.1L893.5 1207.1L893.6 1502.4L894.6 1502.4L894.7 1624.1L895.6 1624.1L895.7 1283.3L896.7 1283.3L896.8 1497.4L897.8 1497.4L897.9 1301.5L898.9 1301.5L899 1497.3L900 1497.3L900.1 1299.2L901.1 1299.2L901.2 1292.8L902.1 1292.8L902.2 1548.6L903.2 1548.6L903.3 1302.3L904.3 1302.3L904.4 1508.1L905.4 1508.1L905.5 1290.9L906.5 1290.9L906.6 1236.5L907.6 1236.5L907.7 1553.3L908.6 1553.3L908.7 1307.8L909.7 1307.8L909.8 1502.7L910.8 1502.7L910.9 1286.2L911.9 1286.2L912 1531.8L913 1531.8L913.1 1578.9L914 1578.9L914.2 1316.5L915.1 1316.5L915.2 1229.3L916.2 1229.3L916.3 1511.3L917.3 1511.3L917.4 1516.3L918.4 1516.3L918.5 1193.2L919.5 1193.2L919.6 1500.5L920.5 1500.5L920.7 1233.8L921.6 1233.8L921.7 1491L922.7 1491L922.8 1200.2L923.8 1200.2L923.9 1559L924.9 1559L925 1275.7L926 1275.7L926.1 1542.5L927 1542.5L927.2 1243.5L928.1 1243.5L928.2 1497.4L929.2 1497.4L929.3 1278.9L930.3 1278.9L930.4 1497.1L931.4 1497.1L931.5 1268.1L932.5 1268.1L932.6 1564.7L933.5 1564.7L933.7 1296.1L934.6 1296.1L934.7 1491.9L935.7 1491.9L935.8 1303.8L936.8 1303.8L936.9 1254.9L937.9 1254.9L938 1499.3L939 1499.3L939.1 1320.2L940 1320.2L940.1 1158.1L941.1 1158.1L941.2 1501.3L942.2 1501.3L942.3 1524.9L943.3 1524.9L943.4 1309.7L944.4 1309.7L944.5 1508.1L945.5 1508.1L945.6 1325.5L946.5 1325.5L946.6 1276.7L947.6 1276.7L947.7 1547.1L948.7 1547.1L948.8 1307.9L949.8 1307.9L949.9 1293.8L950.9 1293.8L951 1539L952 1539L952.1 1314.9L953 1314.9L953.1 1501.7L954.1 1501.7L954.2 1314.4L955.2 1314.4L955.3 1261.5L956.3 1261.5L956.4 1529.2L957.4 1529.2L957.5 1278L958.5 1278L958.6 1515.5L959.5 1515.5L959.6 1301.4L960.6 1301.4L960.7 1618.2L961.7 1618.2L961.8 1290.3L962.8 1290.3L962.9 1626.7L963.9 1626.7L964 1300.2L964.9 1300.2L965.1 1484.9L966 1484.9L966.1 1605.5L967.1 1605.5L967.2 1234.4L968.2 1234.4L968.3 1501.2L969.3 1501.2L969.4 1315.1L970.4 1315.1L970.5 1245.4L971.4 1245.4L971.6 1498.8L972.5 1498.8L972.6 1558.1L973.6 1558.1L973.7 1271.9L974.7 1271.9L974.8 1204L975.8 1204L975.9 1499.5L976.9 1499.5L977 1305.4L977.9 1305.4L978.1 1516.7L979 1516.7L979.1 1303.7L980.1 1303.7L980.2 1511.6L981.2 1511.6L981.3 1220.1L982.3 1220.1L982.4 1519.7L983.4 1519.7L983.5 1531.5L984.4 1531.5L984.6 1239.7L985.5 1239.7L985.6 1498.3L986.6 1498.3L986.7 1581.8L987.7 1581.8L987.8 1314.7L988.8 1314.7L988.9 1514.2L989.9 1514.2L990 1249.6L990.9 1249.6L991 1553.3L992 1553.3L992.1 1266.3L993.1 1266.3L993.2 1494.4L994.2 1494.4L994.3 1241.6L995.3 1241.6L995.4 1574.8L996.4 1574.8L996.5 1306.4L997.4 1306.4L997.5 1195.5L998.5 1195.5L998.6 1514.9L999.6 1514.9L999.7 1534.3L1000.7 1534.3L1000.8 1312.7L1001.8 1312.7L1001.9 1260.2L1002.9 1260.2L1003 1499.2L1003.9 1499.2L1004 1293.3L1005 1293.3L1005.1 1262.5L1006.1 1262.5L1006.2 1500.3L1007.2 1500.3L1007.3 1510.3L1008.3 1510.3L1008.4 1277.6L1009.4 1277.6L1009.5 1496.8L1010.4 1496.8L1010.5 1293.1L1011.5 1293.1L1011.6 1508.1L1012.6 1508.1L1012.7 1296.3L1013.7 1296.3L1013.8 1540L1014.8 1540L1014.9 1224.5L1015.9 1224.5L1016 1218.3L1016.9 1218.3L1017 1526.1L1018 1526.1L1018.1 1314.5L1019.1 1314.5L1019.2 1566.6L1020.2 1566.6L1020.3 1229.2L1021.3 1229.2L1021.4 1211.6L1022.3 1211.6L1022.5 1544.2L1023.4 1544.2L1023.5 1306L1024.5 1306L1024.6 1206.5L1025.6 1206.5L1025.7 1485.9L1026.7 1485.9L1026.8 1304.4L1027.8 1304.4L1027.9 1491.3L1028.8 1491.3L1029 1268.1L1029.9 1268.1L1030 1471.9L1031 1471.9L1031.1 1290.9L1032.1 1290.9L1032.2 1516.7L1033.2 1516.7L1033.3 1247.3L1034.3 1247.3L1034.4 1496.4L1035.3 1496.4L1035.5 1535.9L1036.4 1535.9L1036.5 1290L1037.5 1290L1037.6 1507.9L1038.6 1507.9L1038.7 1321L1039.7 1321L1039.8 1483L1040.8 1483L1040.9 1238.7L1041.8 1238.7L1042 1468.9L1042.9 1468.9L1043 1318.2L1044 1318.2L1044.1 1221.1L1045.1 1221.1L1045.2 1492L1046.2 1492L1046.3 1306.1L1047.3 1306.1L1047.4 1496L1048.3 1496L1048.4 1215.4L1049.4 1215.4L1049.5 1494.2L1050.5 1494.2L1050.6 1314.6L1051.6 1314.6L1051.7 1190.4L1052.7 1190.4L1052.8 1534.8L1053.8 1534.8L1053.9 1568.5L1054.8 1568.5L1054.9 1322.1L1055.9 1322.1L1056 1569.1L1057 1569.1L1057.1 1255.8L1058.1 1255.8L1058.2 1250.1L1059.2 1250.1L1059.3 1512L1060.3 1512L1060.4 1259.6L1061.3 1259.6L1061.4 1503L1062.4 1503L1062.5 1516.3L1063.5 1516.3L1063.6 1308.4L1064.6 1308.4L1064.7 1279L1065.7 1279L1065.8 1579.9L1066.8 1579.9L1066.9 1312.4L1067.8 1312.4L1067.9 1499.5L1068.9 1499.5L1069 1542.5L1070 1542.5L1070.1 1252L1071.1 1252L1071.2 1173.3L1072.2 1173.3L1072.3 1520L1073.2 1520L1073.4 1551L1074.3 1551L1074.4 1261.3L1075.4 1261.3L1075.5 1510.9L1076.5 1510.9L1076.6 1317.5L1077.6 1317.5L1077.7 1179.9L1078.7 1179.9L1078.8 1527.7L1079.7 1527.7L1079.9 1253.6L1080.8 1253.6L1080.9 1487.3L1081.9 1487.3L1082 1202.1L1083 1202.1L1083.1 1487.6L1084.1 1487.6L1084.2 1332.5L1085.2 1332.5L1085.3 1536.2L1086.2 1536.2L1086.4 1306.1L1087.3 1306.1L1087.4 1240.1L1088.4 1240.1L1088.5 1489.8L1089.5 1489.8L1089.6 1308.7L1090.6 1308.7L1090.7 1265.3L1091.7 1265.3L1091.8 1537.2L1092.7 1537.2L1092.9 1310L1093.8 1310L1093.9 1500.8L1094.9 1500.8L1095 1579.3L1096 1579.3L1096.1 1225.5L1097.1 1225.5L1097.2 1497.2L1098.2 1497.2L1098.3 1322.6L1099.2 1322.6L1099.3 1501.4L1100.3 1501.4L1100.4 1510.6L1101.4 1510.6L1101.5 1223.6L1102.5 1223.6L1102.6 1492.4L1103.6 1492.4L1103.7 1236.5L1104.7 1236.5L1104.8 1228.3L1105.7 1228.3L1105.8 1496.5L1106.8 1496.5L1106.9 1533.4L1107.9 1533.4L1108 1235.9L1109 1235.9L1109.1 1506.8L1110.1 1506.8L1110.2 1253.2L1111.2 1253.2L1111.3 1472.8L1112.2 1472.8L1112.3 1245.4L1113.3 1245.4L1113.4 1542.5L1114.4 1542.5L1114.5 1315.9L1115.5 1315.9L1115.6 1484.5L1116.6 1484.5L1116.7 1277.6L1117.7 1277.6L1117.8 1490.4L1118.7 1490.4L1118.8 1489.8L1119.8 1489.8L1119.9 1225.5L1120.9 1225.5L1121 1496.6L1122 1496.6L1122.1 1270.5L1123.1 1270.5L1123.2 1506.7L1124.2 1506.7L1124.3 1523.9L1125.2 1523.9L1125.3 1221.7L1126.3 1221.7L1126.4 1502.5L1127.4 1502.5L1127.5 1678.5L1128.5 1678.5L1128.6 1280.1L1129.6 1280.1L1129.7 1486.9L1130.6 1486.9L1130.8 1255.8L1131.7 1255.8L1131.8 1498.4L1132.8 1498.4L1132.9 1259.6L1133.9 1259.6L1134 1509.7L1135 1509.7L1135.1 1283.8L1136.1 1283.8L1136.2 1476.4L1137.1 1476.4L1137.3 1514.4L1138.2 1514.4L1138.3 1313.5L1139.3 1313.5L1139.4 1493.2L1140.4 1493.2L1140.5 1304.7L1141.5 1304.7L1141.6 1552L1142.6 1552L1142.7 1206.1L1143.6 1206.1L1143.8 1489.8L1144.7 1489.8L1144.8 1564.1L1145.8 1564.1L1145.9 1237.8L1146.9 1237.8L1147 1552.5L1148 1552.5L1148.1 1249.6L1149.1 1249.6L1149.2 1499.8L1150.1 1499.8L1150.3 1311.2L1151.2 1311.2L1151.3 1231.2L1152.3 1231.2L1152.4 1505.9L1153.4 1505.9L1153.5 1304.6L1154.5 1304.6L1154.6 1494.7L1155.6 1494.7L1155.7 1256.5L1156.6 1256.5L1156.7 1230.2L1157.7 1230.2L1157.8 1590.3L1158.8 1590.3L1158.9 1249.2L1159.9 1249.2L1160 1499.7L1161 1499.7L1161.1 1297.1L1162.1 1297.1L1162.2 1276.7L1163.1 1276.7L1163.2 1506.8L1164.2 1506.8L1164.3 1308.9L1165.3 1308.9L1165.4 1488.2L1166.4 1488.2L1166.5 1266.2L1167.5 1266.2L1167.6 1487.8L1168.6 1487.8L1168.7 1572.3L1169.6 1572.3L1169.7 1304.5L1170.7 1304.5L1170.8 1266.6L1171.8 1266.6L1171.9 1490.6L1172.9 1490.6L1173 1305.1L1174 1305.1L1174.1 1513.8L1175.1 1513.8L1175.2 1189L1176.1 1189L1176.2 1545.2L1177.2 1545.2L1177.3 1306.2L1178.3 1306.2L1178.4 1510.9L1179.4 1510.9L1179.5 1270.4L1180.5 1270.4L1180.6 1559L1181.5 1559L1181.7 1582.2L1182.6 1582.2L1182.7 1299.7L1183.7 1299.7L1183.8 1292.8L1184.8 1292.8L1184.9 1493.5L1185.9 1493.5L1186 1305.2L1187 1305.2L1187.1 1487.4L1188 1487.4L1188.2 1557.1L1189.1 1557.1L1189.2 1272.9L1190.2 1272.9L1190.3 1549.2L1191.3 1549.2L1191.4 1309.2L1192.4 1309.2L1192.5 1255.2L1193.5 1255.2L1193.6 1571.9L1194.5 1571.9L1194.7 1303.5L1195.6 1303.5L1195.7 1489.4L1196.7 1489.4L1196.8 1263.8L1197.8 1263.8L1197.9 1512.9L1198.9 1512.9L1199 1309.1L1200 1309.1L1200.1 1258.1L1201 1258.1L1201.2 1542.5L1202.1 1542.5L1202.2 1306.4L1203.2 1306.4L1203.3 1512.7L1204.3 1512.7L1204.4 1272.9L1205.4 1272.9L1205.5 1486.2L1206.5 1486.2L1206.6 1291.7L1207.5 1291.7L1207.6 1232.7L1208.6 1232.7L1208.7 1550.5L1209.7 1550.5L1209.8 1311.7L1210.8 1311.7L1210.9 1498L1211.9 1498L1212 1303.5L1213 1303.5L1213.1 1297.5L1214 1297.5L1214.1 1492.9L1215.1 1492.9L1215.2 1306.5L1216.2 1306.5L1216.3 1239.7L1217.3 1239.7L1217.4 1581.2L1218.4 1581.2L1218.5 1303.3L1219.5 1303.3L1219.6 1263.4L1220.5 1263.4L1220.6 1544.8L1221.6 1544.8L1221.7 1304.6L1222.7 1304.6L1222.8 1272.9L1223.8 1272.9L1223.9 1486.7L1224.9 1486.7L1225 1281.5L1226 1281.5L1226.1 1578.4L1227 1578.4L1227.1 1294.4L1228.1 1294.4L1228.2 1518.2L1229.2 1518.2L1229.3 1273.8L1230.3 1273.8L1230.4 1496.8L1231.4 1496.8L1231.5 1592.6L1232.5 1592.6L1232.6 1284.9L1233.5 1284.9L1233.6 1490.8L1234.6 1490.8L1234.7 1244.8L1235.7 1244.8L1235.8 1484.7L1236.8 1484.7L1236.9 1526.8L1237.9 1526.8L1238 1262.5L1238.9 1262.5L1239.1 1197L1240 1197L1240.1 1496.5L1241.1 1496.5L1241.2 1313.6L1242.2 1313.6L1242.3 1497.6L1243.3 1497.6L1243.4 1280.5L1244.4 1280.5L1244.5 1573.2L1245.4 1573.2L1245.6 1309.6L1246.5 1309.6L1246.6 1303.2L1247.6 1303.2L1247.7 1509.2L1248.7 1509.2L1248.8 1307.3L1249.8 1307.3L1249.9 1505.2L1250.9 1505.2L1251 1332.8L1251.9 1332.8L1252.1 1236.3L1253 1236.3L1253.1 1608.9L1254.1 1608.9L1254.2 1309.9L1255.2 1309.9L1255.3 1255.8L1256.3 1255.8L1256.4 1500.2L1257.4 1500.2L1257.5 1283.1L1258.4 1283.1L1258.6 1524.9L1259.5 1524.9L1259.6 1309.9L1260.6 1309.9L1260.7 1496.4L1261.7 1496.4L1261.8 1231.2L1262.8 1231.2L1262.9 1488.7L1263.9 1488.7L1264 1271.5L1264.9 1271.5L1265 1555.2L1266 1555.2L1266.1 1249.6L1267.1 1249.6L1267.2 1492.6L1268.2 1492.6L1268.3 1320.4L1269.3 1320.4L1269.4 1518.2L1270.4 1518.2L1270.5 1312.2L1271.4 1312.2L1271.5 1195.5L1272.5 1195.5L1272.6 1510.8L1273.6 1510.8L1273.7 1281.1L1274.7 1281.1L1274.8 1585.2L1275.8 1585.2L1275.9 1263.9L1276.9 1263.9L1277 1247.7L1277.9 1247.7L1278 1535.3L1279 1535.3L1279.1 1313.4L1280.1 1313.4L1280.2 1503.1L1281.2 1503.1L1281.3 1275.7L1282.3 1275.7L1282.4 1527.7L1283.4 1527.7L1283.5 1307.4L1284.4 1307.4L1284.5 1579.9L1285.5 1579.9L1285.6 1291.1L1286.6 1291.1L1286.7 1525.9L1287.7 1525.9L1287.8 1283.3L1288.8 1283.3L1288.9 1497.8L1289.8 1497.8L1290 1308.6L1290.9 1308.6L1291 1527.7L1292 1527.7L1292.1 1313.3L1293.1 1313.3L1293.2 1213.1L1294.2 1213.1L1294.3 1484.4L1295.3 1484.4L1295.4 1287.6L1296.3 1287.6L1296.5 1500L1297.4 1500L1297.5 1281.4L1298.5 1281.4L1298.6 1589.4L1299.6 1589.4L1299.7 1286.8L1300.7 1286.8L1300.8 1496.4L1301.8 1496.4L1301.9 1547.6L1302.8 1547.6L1303 1210.3L1303.9 1210.3L1304 1494.3L1305 1494.3L1305.1 1269.3L1306.1 1269.3L1306.2 1487L1307.2 1487L1307.3 1292.4L1308.3 1292.4L1308.4 1249.2L1309.3 1249.2L1309.5 1500.1L1310.4 1500.1L1310.5 1527.7L1311.5 1527.7L1311.6 1266.4L1312.6 1266.4L1312.7 1219.2L1313.7 1219.2L1313.8 1507.7L1314.8 1507.7L1314.9 1317.5L1315.8 1317.5L1315.9 1203.6L1316.9 1203.6L1317 1520.9L1318 1520.9L1318.1 1210.2L1319.1 1210.2L1319.2 1490L1320.2 1490L1320.3 1601.3L1321.3 1601.3L1321.4 1312L1322.3 1312L1322.4 1225.1L1323.4 1225.1L1323.5 1495.7L1324.5 1495.7L1324.6 1289.9L1325.6 1289.9L1325.7 1227.4L1326.7 1227.4L1326.8 1592.2L1327.8 1592.2L1327.9 1314.7L1328.8 1314.7L1328.9 1537.6L1329.9 1537.6L1330 1214.2L1331 1214.2L1331.1 1204L1332.1 1204L1332.2 1578.9L1333.2 1578.9L1333.3 1273L1334.3 1273L1334.4 1251.6L1335.3 1251.6L1335.4 1567.2L1336.4 1567.2L1336.5 1277.8L1337.5 1277.8L1337.6 1509.9L1338.6 1509.9L1338.7 1220.1L1339.7 1220.1L1339.8 1515.9L1340.8 1515.9L1340.9 1557.1L1341.8 1557.1L1341.9 1237L1342.9 1237L1343 1199.9L1344 1199.9L1344.1 1484L1345.1 1484L1345.2 1310.4L1346.2 1310.4L1346.3 1586.5L1347.2 1586.5L1347.4 1276.7L1348.3 1276.7L1348.4 1490.8L1349.4 1490.8L1349.5 1282L1350.5 1282L1350.6 1234.9L1351.6 1234.9L1351.7 1526.8L1352.7 1526.8L1352.8 1263.8L1353.7 1263.8L1353.9 1501.5L1354.8 1501.5L1354.9 1168.6L1355.9 1168.6L1356 1572.3L1357 1572.3L1357.1 1314.4L1358.1 1314.4L1358.2 1617.8L1359.2 1617.8L1359.3 1234.4L1360.2 1234.4L1360.4 1533.8L1361.3 1533.8L1361.4 1307.5L1362.4 1307.5L1362.5 1488L1363.5 1488L1363.6 1565.1L1364.6 1565.1L1364.7 1311.2L1365.7 1311.2L1365.8 1249.6L1366.7 1249.6L1366.9 1488.6L1367.8 1488.6L1367.9 1277.9L1368.9 1277.9L1369 1520.1L1370 1520.1L1370.1 1299L1371.1 1299L1371.2 1229.3L1372.2 1229.3L1372.3 1492.2L1373.2 1492.2L1373.3 1243.6L1374.3 1243.6L1374.4 1490.3L1375.4 1490.3L1375.5 1215.4L1376.5 1215.4L1376.6 1589.9L1377.6 1589.9L1377.7 1291.9L1378.7 1291.9L1378.8 1596L1379.7 1596L1379.8 1303.4L1380.8 1303.4L1380.9 1494.6L1381.9 1494.6L1382 1460L1382.5 1460L1382.5 1337.5"/></g>
<g class="txt">
<text x="278.6" y="43.25" text-anchor="end">0.015</text>
<text x="278.6" y="185.2" text-anchor="end">0.010</text>
<text x="278.6" y="327.2" text-anchor="end">0.005</text>
<text x="278.6" y="470.2" text-anchor="end">0</text>
<text x="278.6" y="612.2" text-anchor="end">−0.005</text>
<text x="278.6" y="754.05" text-anchor="end">−0.010</text>
<text x="305.3" y="803.4" text-anchor="middle">0</text>
<text x="440.68" y="803.4" text-anchor="middle">0.5</text>
<text x="576.05" y="803.4" text-anchor="middle">1.0</text>
<text x="711.42" y="803.4" text-anchor="middle">1.5</text>
<text x="846.8" y="803.4" text-anchor="middle">2.0</text>
<text x="982.17" y="803.4" text-anchor="middle">2.5</text>
<text x="1117.55" y="803.4" text-anchor="middle">3.0</text>
<text x="1252.92" y="803.4" text-anchor="middle">3.5</text>
<text x="1388.3" y="803.4" text-anchor="middle">4.0</text>
<text x="278.6" y="1124.1" text-anchor="end">0.02</text>
<text x="278.6" y="1266.1" text-anchor="end">0.01</text>
<text x="278.6" y="1409.1" text-anchor="end">0</text>
<text x="278.6" y="1551.1" text-anchor="end">−0.01</text>
<text x="278.6" y="1694.1" text-anchor="end">−0.02</text>
<text x="298.1" y="1811.3" text-anchor="middle">0</text>
<text x="433.68" y="1811.3" text-anchor="middle">0.5</text>
<text x="569.25" y="1811.3" text-anchor="middle">1.0</text>
<text x="704.83" y="1811.3" text-anchor="middle">1.5</text>
<text x="840.4" y="1811.3" text-anchor="middle">2.0</text>
<text x="975.98" y="1811.3" text-anchor="middle">2.5</text>
<text x="1111.55" y="1811.3" text-anchor="middle">3.0</text>
<text x="1247.12" y="1811.3" text-anchor="middle">3.5</text>
<text x="1382.7" y="1811.3" text-anchor="middle">4.0</text>
<text x="777" y="866.9"><tspan class="c" dy="1.2">时间</tspan><tspan dy="-1.2">/s</tspan></text>
<text x="777" y="1876.3"><tspan class="c" dy="1.2">时间</tspan><tspan dy="-1.2">/s</tspan></text>
<text x="601.7" y="942.9">(a) CCD<tspan class="c" dy="1.2">静态测量噪声</tspan></text>
<text x="549.7" y="1945.2">(b) <tspan class="c" dy="1.2">融合输出信号静态噪声</tspan></text>
<text transform="translate(110.5 496.5) rotate(-90)"><tspan class="c" dy="1.2">幅值</tspan><tspan dy="-1.2">/mrad</tspan></text>
<text style="letter-spacing:.3px" transform="translate(116.6 1538.3) rotate(-90)"><tspan class="c" dy="1.2">幅值</tspan><tspan dy="-1.2">/(rad·s</tspan><tspan class="s" dy="-18.5">−1</tspan><tspan dy="18.5">)</tspan></text>
</g>
</svg>
</body>
</html>
